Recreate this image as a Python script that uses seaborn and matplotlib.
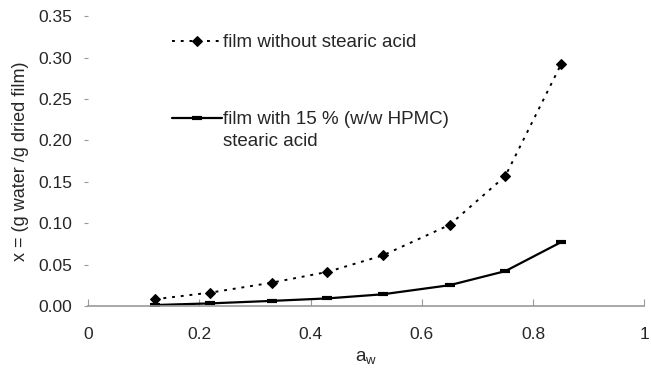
import pandas as pd
import matplotlib
matplotlib.use("Agg")
import matplotlib.pyplot as plt
import seaborn as sns

# =====================================================
# DATA
# =====================================================

aw = [0.12, 0.22, 0.33, 0.43, 0.53, 0.65, 0.75, 0.85]
x_without = [0.008, 0.016, 0.028, 0.041, 0.061, 0.098, 0.157, 0.292]
x_with = [0.001, 0.003, 0.006, 0.009, 0.014, 0.025, 0.042, 0.077]

label_without = "film without stearic acid"
label_with = "film with 15 % (w/w HPMC)"
label_with_2 = "stearic acid"

y_ticks = [0.00, 0.05, 0.10, 0.15, 0.20, 0.25, 0.30, 0.35]
x_ticks = [0, 0.2, 0.4, 0.6, 0.8, 1]

df = pd.DataFrame({"aw": aw, "without": x_without, "with": x_with})

# =====================================================
# PLOT
# =====================================================

sns.set_style("white")
plt.rcParams["font.family"] = ["Liberation Sans", "DejaVu Sans"]

fig = plt.figure(figsize=(6.51, 3.73), dpi=100)
ax = fig.add_axes([0.135, 0.18, 0.855, 0.776])

sns.lineplot(
    data=df, x="aw", y="without", ax=ax,
    color="black", linestyle=(0, (1.5, 3)), linewidth=1.4,
    marker="D", markersize=5.5, markeredgecolor="black",
    label=label_without
)
sns.lineplot(
    data=df, x="aw", y="with", ax=ax,
    color="black", linestyle="-", linewidth=1.6,
    marker="_", markersize=7, markeredgewidth=3, markeredgecolor="black",
    label=label_with
)

ax.set_xlim(0, 1)
ax.set_ylim(0, 0.35)
ax.set_xticks(x_ticks)
ax.set_xticklabels(["0", "0.2", "0.4", "0.6", "0.8", "1"])
ax.set_yticks(y_ticks)
ax.set_yticklabels([f"{v:.2f}" for v in y_ticks])

for side in ["top", "right", "left"]:
    ax.spines[side].set_visible(False)
ax.spines["bottom"].set_color("#999999")
ax.spines["bottom"].set_linewidth(1.2)

ax.tick_params(axis="x", direction="in", length=5, color="#999999",
               labelsize=12.5, pad=15, bottom=True)
ax.tick_params(axis="y", direction="out", length=3, color="#999999",
               labelsize=12.5, pad=8, left=True)

ax.set_xlabel("a$_\\mathregular{w}$", fontsize=13.5, labelpad=6)
ax.set_ylabel("x = (g water /g dried film)", fontsize=13, labelpad=7)

leg = ax.legend(
    loc="upper left", bbox_to_anchor=(0.137, 0.965), frameon=False,
    fontsize=13.5, handlelength=2.7, handletextpad=0.05,
    labelspacing=3.2, borderaxespad=0
)

# second line of the second legend label, under its first line
fig.canvas.draw()
t = leg.get_texts()[1]
bb = t.get_window_extent()
x0, y0 = fig.transFigure.inverted().transform((bb.x0, bb.y0))
fig.text(x0, y0 - 0.012, label_with_2, fontsize=13.5, va="top", ha="left")

fig.savefig("out.png", dpi=100)
plt.close()
